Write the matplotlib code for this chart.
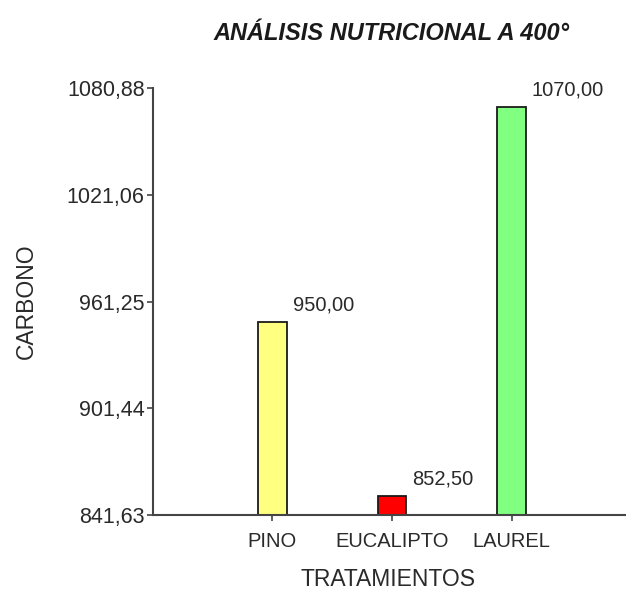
import matplotlib.pyplot as plt

# --- DATA ---
tratamientos = ['PINO', 'EUCALIPTO', 'LAUREL']
carbono = [950.00, 852.50, 1070.00]
colores = ['#ffff80', '#ff0000', '#80ff80']
yticks = [841.63, 901.44, 961.25, 1021.06, 1080.88]

plt.rcParams['font.family'] = ['Liberation Sans', 'DejaVu Sans']
txt = '#2a2a2a'

fig = plt.figure(figsize=(6.26, 5.91), dpi=100)
ax = fig.add_axes([0.2444, 0.1286, 0.7636, 0.7225])

x = list(range(len(tratamientos)))
w = 0.235
ax.bar(x, carbono, width=w, color=colores, edgecolor='#1a1a1a', linewidth=1.3,
       bottom=0, zorder=2)

ax.set_xlim(-1, 3)
ax.set_ylim(yticks[0], yticks[-1])
ax.set_yticks(yticks)
ax.set_yticklabels([f"{v:.2f}".replace('.', ',') for v in yticks])
ax.set_xticks(x)
ax.set_xticklabels(tratamientos)

# value labels next to each bar
for xi, v in zip(x, carbono):
    ax.annotate(f"{v:.2f}".replace('.', ','), xy=(xi + w / 2, v),
                xytext=(6, 17), textcoords='offset pixels',
                ha='left', va='center', fontsize=14.5, color=txt)

for s in ['top', 'right']:
    ax.spines[s].set_visible(False)
for s in ['left', 'bottom']:
    ax.spines[s].set_color('#444444')
    ax.spines[s].set_linewidth(1.5)

ax.tick_params(axis='both', direction='out', length=4, width=1.2,
               color='#444444', labelsize=14.5, labelcolor=txt)
ax.tick_params(axis='y', pad=2, labelsize=15.5)
ax.tick_params(axis='x', pad=8)

ax.set_ylabel('CARBONO', fontsize=16.5, color=txt)
ax.yaxis.set_label_coords(-0.2405, 0.5)
ax.set_xlabel('TRATAMIENTOS', fontsize=16.5, color=txt)
ax.xaxis.set_label_coords(0.4916, -0.125)

fig.text(0.625, 0.944, 'ANÁLISIS NUTRICIONAL A 400°', ha='center', va='center',
         fontsize=17, fontweight='bold', fontstyle='italic', color='#1a1a1a')

fig.savefig('out.png', dpi=100)
